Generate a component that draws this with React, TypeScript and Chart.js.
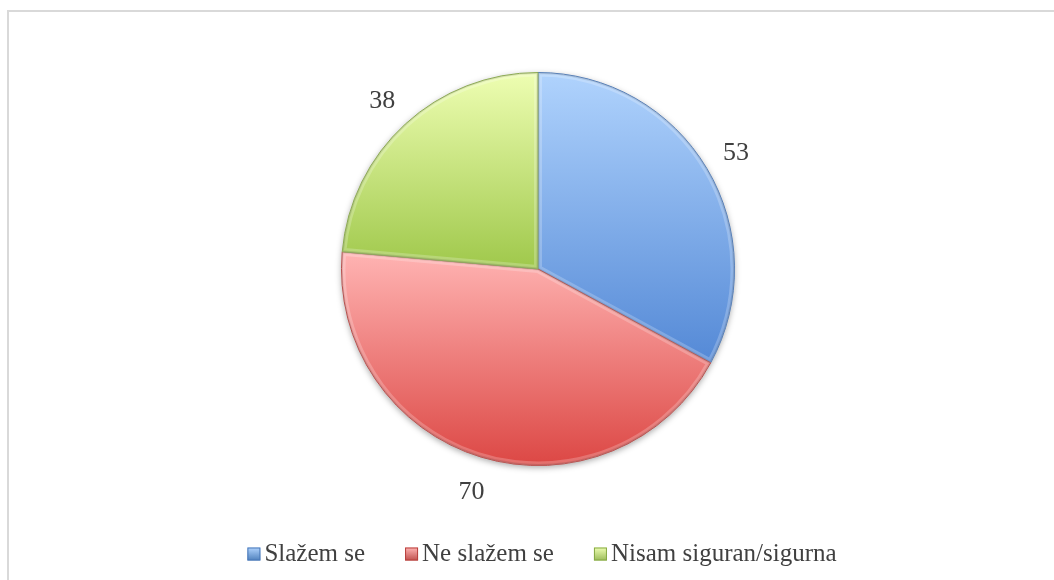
import React, { useEffect, useRef } from "react";
import { Chart, registerables } from "chart.js";

Chart.register(...registerables);

const categories = ["Slažem se", "Ne slažem se", "Nisam siguran/sigurna"];
const values = [53, 70, 38];
const topColors = ["#b0d3fd", "#ffb4b3", "#eefeb2"];
const bottomColors = ["#5489d6", "#dc4744", "#9fc84b"];
const borderColors = ["#4a78b8", "#b8403d", "#86a944"];
const legendColors = ["#4f81bd", "#c0504d", "#9bbb59"];

const LABEL_FONT = "26px 'Liberation Serif', serif";
const LEGEND_FONT = "25px 'Liberation Serif', serif";
const TEXT_COLOR = "#404040";

function sliceYRange(i: number, cy: number, r: number) {
  const total = values.reduce((a, b) => a + b, 0);
  let before = 0;
  for (let k = 0; k < i; k++) before += values[k];
  const a0 = (before / total) * Math.PI * 2;
  const a1 = ((before + values[i]) / total) * Math.PI * 2;
  const ys = [cy, cy - r * Math.cos(a0), cy - r * Math.cos(a1)];
  if (a0 < Math.PI && a1 > Math.PI) ys.push(cy + r);
  return [Math.min(...ys), Math.max(...ys)];
}

const bevelPlugin = {
  id: "bevel",
  beforeDatasetsDraw(chart: any) {
    const meta = chart.getDatasetMeta(0);
    const el = meta.data[0];
    if (!el) return;
    const ctx = chart.ctx;
    ctx.save();
    ctx.shadowColor = "rgba(0,0,0,0.35)";
    ctx.shadowBlur = 6;
    ctx.shadowOffsetY = 2;
    ctx.beginPath();
    ctx.arc(el.x, el.y, el.outerRadius, 0, Math.PI * 2);
    ctx.fillStyle = "#ffffff";
    ctx.fill();
    ctx.restore();
  },
  afterDatasetsDraw(chart: any) {
    const meta = chart.getDatasetMeta(0);
    const ctx = chart.ctx;
    meta.data.forEach((el: any) => {
      ctx.save();
      ctx.beginPath();
      ctx.moveTo(el.x, el.y);
      ctx.arc(el.x, el.y, el.outerRadius, el.startAngle, el.endAngle);
      ctx.closePath();
      ctx.clip();
      ctx.lineJoin = "round";
      ctx.lineWidth = 8;
      ctx.strokeStyle = "rgba(255,255,255,0.22)";
      ctx.stroke();
      ctx.lineWidth = 3;
      ctx.strokeStyle = "rgba(0,0,0,0.10)";
      ctx.stroke();
      ctx.restore();
    });
  },
};

const valueLabelPlugin = {
  id: "valueLabels",
  afterDraw(chart: any) {
    const meta = chart.getDatasetMeta(0);
    const ctx = chart.ctx;
    ctx.save();
    ctx.font = LABEL_FONT;
    ctx.fillStyle = TEXT_COLOR;
    ctx.textAlign = "center";
    ctx.textBaseline = "alphabetic";
    meta.data.forEach((el: any, i: number) => {
      const mid = (el.startAngle + el.endAngle) / 2;
      const d = el.outerRadius + 34;
      const x = el.x + Math.cos(mid) * d;
      const y = el.y + Math.sin(mid) * d;
      ctx.fillText(String(values[i]), x, y + 9);
    });
    ctx.restore();
  },
};

const legendPlugin = {
  id: "customLegend",
  afterDraw(chart: any) {
    const ctx = chart.ctx;
    ctx.save();
    ctx.font = LEGEND_FONT;
    const box = 13;
    const boxGap = 4;
    const itemGap = 40;
    const widths = categories.map((c) => ctx.measureText(c).width);
    const total =
      widths.reduce((a, b) => a + b, 0) +
      categories.length * (box + boxGap) +
      (categories.length - 1) * itemGap;
    let x = 542 - total / 2;
    const baseline = 561;
    categories.forEach((c, i) => {
      const by = 547.5;
      const g = ctx.createLinearGradient(0, by, 0, by + box);
      g.addColorStop(0, topColors[i]);
      g.addColorStop(1, legendColors[i]);
      ctx.fillStyle = g;
      ctx.fillRect(x, by, box, box);
      ctx.strokeStyle = borderColors[i];
      ctx.lineWidth = 1;
      ctx.strokeRect(x + 0.5, by + 0.5, box - 1, box - 1);
      x += box + boxGap;
      ctx.fillStyle = TEXT_COLOR;
      ctx.textAlign = "left";
      ctx.textBaseline = "alphabetic";
      ctx.fillText(c, x, baseline);
      x += widths[i] + itemGap;
    });
    ctx.restore();
  },
};

export default function App() {
  const canvasRef = useRef<HTMLCanvasElement | null>(null);

  useEffect(() => {
    const canvas = canvasRef.current;
    if (!canvas) return;
    const chart = new Chart(canvas, {
      type: "pie",
      data: {
        labels: categories,
        datasets: [
          {
            data: values,
            backgroundColor: (context: any) => {
              const c = context.chart;
              const area = c.chartArea;
              const i = context.dataIndex;
              if (!area) return bottomColors[i];
              const cy = (area.top + area.bottom) / 2;
              const r = Math.min(area.width, area.height) / 2;
              const [y0, y1] = sliceYRange(i, cy, r);
              const g = c.ctx.createLinearGradient(0, y0, 0, y1);
              g.addColorStop(0, topColors[i]);
              g.addColorStop(1, bottomColors[i]);
              return g;
            },
            borderColor: borderColors,
            borderWidth: 1,
          },
        ],
      },
      options: {
        responsive: false,
        animation: false,
        layout: { padding: { top: 72, bottom: 114, left: 22, right: 0 } },
        plugins: {
          legend: { display: false },
          tooltip: { enabled: false },
        },
      },
      plugins: [bevelPlugin, valueLabelPlugin, legendPlugin],
    });
    return () => chart.destroy();
  }, []);

  return (
    <div
      style={{
        position: "fixed",
        left: 0,
        top: 0,
        width: 1054,
        height: 580,
        background: "#ffffff",
        overflow: "hidden",
      }}
    >
      <div
        style={{
          position: "absolute",
          left: 7,
          top: 10,
          width: 1100,
          height: 620,
          borderTop: "2px solid #d9d9d9",
          borderLeft: "2px solid #d9d9d9",
        }}
      />
      <canvas
        ref={canvasRef}
        width={1054}
        height={580}
        style={{ position: "absolute", left: 0, top: 0, width: 1054, height: 580 }}
      />
    </div>
  );
}
